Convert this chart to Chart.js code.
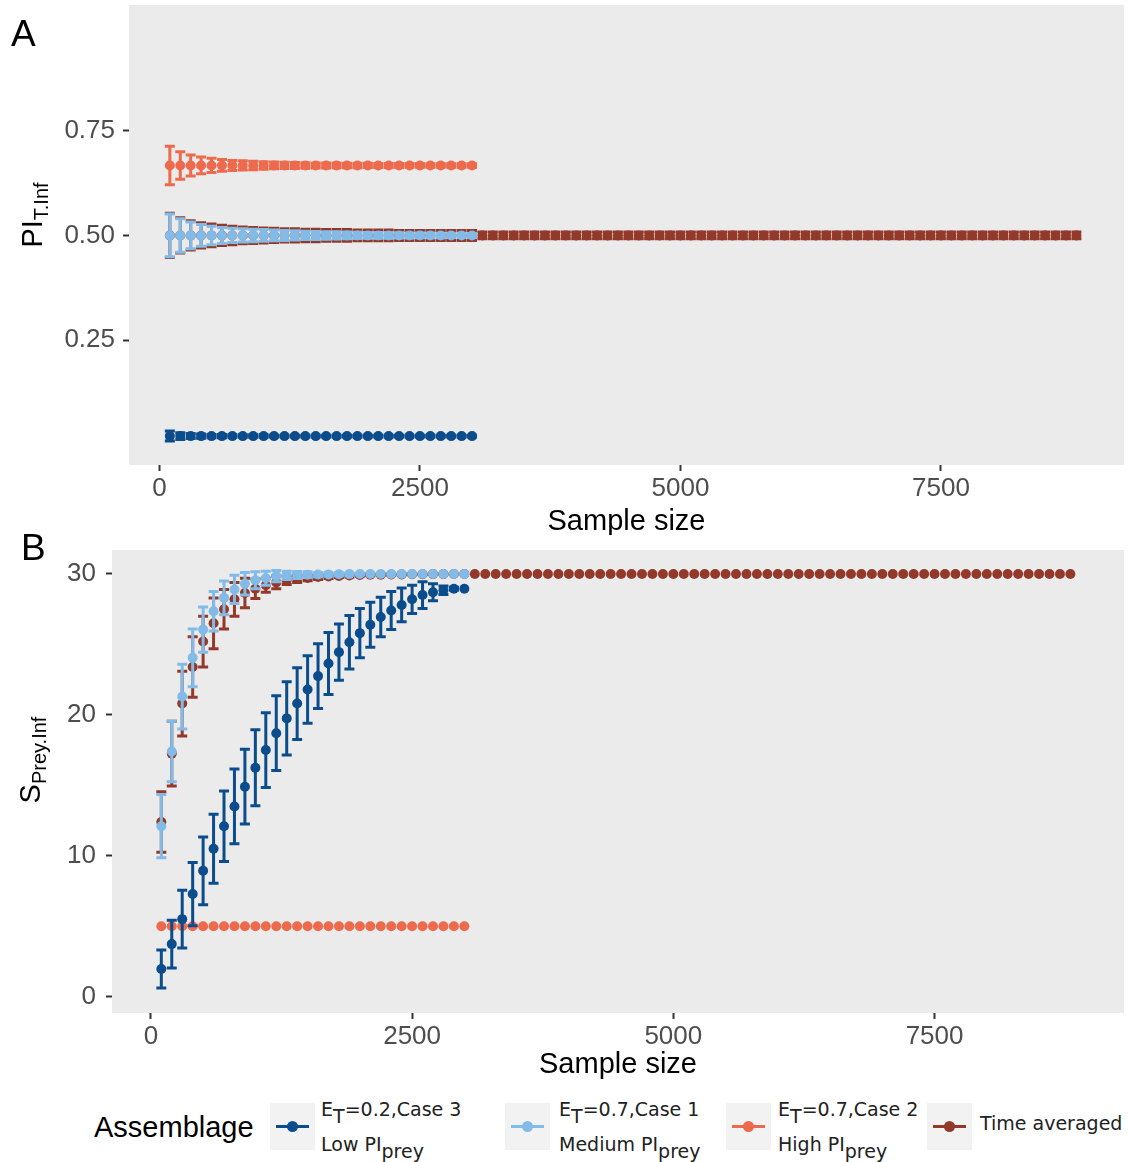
<!DOCTYPE html>
<html>
<head>
<meta charset="utf-8">
<title>Sample size curves</title>
<script src="https://cdn.jsdelivr.net/npm/chart.js@4.4.1/dist/chart.umd.min.js"></script>
<style>
  body { margin: 0; background: #fff; width: 1129px; height: 1162px; position: relative; overflow: hidden;
         font-family: "Liberation Sans", Arial, sans-serif; }
  canvas { position: absolute; left: 0; }
  #chartA { top: 0; }
  #chartB { top: 540px; }
  .tag { position: absolute; font-size: 37px; line-height: 37px; color: #000; }
  .ytitle { position: absolute; transform: translate(-50%, -50%) rotate(-90deg); white-space: nowrap;
            font-size: 29px; color: #000; }
  .ytitle sub { font-size: 20px; vertical-align: -0.3em; line-height: 0; }
  .lg-title { position: absolute; left: 94px; top: 1111px; font-size: 29px; line-height: 33px; }
  .key { position: absolute; top: 1103px; width: 45px; height: 47px; background: #f2f2f2; }
  .key .kline { position: absolute; left: 6px; right: 6px; top: 22px; height: 3px; }
  .key .kdot { position: absolute; left: 17px; top: 18px; width: 11px; height: 11px; border-radius: 50%; }
  .ltext { position: absolute; font-family: "DejaVu Sans", sans-serif; font-size: 19px; line-height: 35px;
           color: #222; white-space: nowrap; }
  .ltext sub { font-size: 19px; vertical-align: -0.35em; line-height: 0; }
</style>
</head>
<body>
<canvas id="chartA" width="1129" height="535"></canvas>
<canvas id="chartB" width="1129" height="545"></canvas>

<div class="tag" style="left:11px; top:15px;">A</div>
<div class="tag" style="left:21px; top:529px;">B</div>
<div class="ytitle" style="left:32px; top:215px;">PI<sub>T.Inf</sub></div>
<div class="ytitle" style="left:30px; top:760px;">S<sub>Prey.Inf</sub></div>
<div id="legend"></div>

<script>
// sample sizes of the three assemblages and of the time-averaged one
const sampleSizes = [100, 200, 300, 400, 500, 600, 700, 800, 900, 1000,
    1100, 1200, 1300, 1400, 1500, 1600, 1700, 1800, 1900, 2000,
    2100, 2200, 2300, 2400, 2500, 2600, 2700, 2800, 2900, 3000];
const sampleSizesTime = [100, 200, 300, 400, 500, 600, 700, 800, 900, 1000,
    1100, 1200, 1300, 1400, 1500, 1600, 1700, 1800, 1900, 2000,
    2100, 2200, 2300, 2400, 2500, 2600, 2700, 2800, 2900, 3000,
    3100, 3200, 3300, 3400, 3500, 3600, 3700, 3800, 3900, 4000,
    4100, 4200, 4300, 4400, 4500, 4600, 4700, 4800, 4900, 5000,
    5100, 5200, 5300, 5400, 5500, 5600, 5700, 5800, 5900, 6000,
    6100, 6200, 6300, 6400, 6500, 6600, 6700, 6800, 6900, 7000,
    7100, 7200, 7300, 7400, 7500, 7600, 7700, 7800, 7900, 8000,
    8100, 8200, 8300, 8400, 8500, 8600, 8700, 8800];

const xTickValues = [0, 2500, 5000, 7500];
const yTicksA = [0.25, 0.50, 0.75];
const yTicksB = [0, 10, 20, 30];

// Panel A: PI T.Inf  (value, half-width of error bar)
const piLow = [0.021, 0.021, 0.021, 0.021, 0.021, 0.021, 0.021, 0.021, 0.021, 0.021,
    0.021, 0.021, 0.021, 0.021, 0.021, 0.021, 0.021, 0.021, 0.021, 0.021,
    0.021, 0.021, 0.021, 0.021, 0.021, 0.021, 0.021, 0.021, 0.021, 0.021];
const piLowErr = [0.012, 0.008, 0.006, 0.005, 0.004, 0.004, 0.003, 0.003, 0.003, 0.003,
    0.002, 0.002, 0.002, 0.002, 0.002, 0.002, 0.002, 0.002, 0.002, 0.002,
    0.002, 0.002, 0.002, 0.002, 0.002, 0.002, 0.002, 0.002, 0.002, 0.002];
const piMed = [0.5, 0.5, 0.5, 0.5, 0.5, 0.5, 0.5, 0.5, 0.5, 0.5,
    0.5, 0.5, 0.5, 0.5, 0.5, 0.5, 0.5, 0.5, 0.5, 0.5,
    0.5, 0.5, 0.5, 0.5, 0.5, 0.5, 0.5, 0.5, 0.5, 0.5];
const piMedErr = [0.051, 0.040, 0.032, 0.026, 0.022, 0.019, 0.017, 0.016, 0.015, 0.014,
    0.013, 0.012, 0.011, 0.010, 0.0095, 0.009, 0.0085, 0.008, 0.0075, 0.007,
    0.0068, 0.0065, 0.0062, 0.006, 0.0058, 0.0056, 0.0054, 0.0052, 0.005, 0.0048];
const piHigh = [0.667, 0.667, 0.667, 0.667, 0.667, 0.667, 0.667, 0.667, 0.667, 0.667,
    0.667, 0.667, 0.667, 0.667, 0.667, 0.667, 0.667, 0.667, 0.667, 0.667,
    0.667, 0.667, 0.667, 0.667, 0.667, 0.667, 0.667, 0.667, 0.667, 0.667];
const piHighErr = [0.046, 0.033, 0.025, 0.020, 0.017, 0.014, 0.012, 0.011, 0.010, 0.009,
    0.008, 0.0075, 0.007, 0.0065, 0.006, 0.0058, 0.0056, 0.0054, 0.0052, 0.005,
    0.0048, 0.0047, 0.0046, 0.0045, 0.0044, 0.0043, 0.0042, 0.0041, 0.004, 0.004];
const piTime = [0.5, 0.5, 0.5, 0.5, 0.5, 0.5, 0.5, 0.5, 0.5, 0.5,
    0.5, 0.5, 0.5, 0.5, 0.5, 0.5, 0.5, 0.5, 0.5, 0.5,
    0.5, 0.5, 0.5, 0.5, 0.5, 0.5, 0.5, 0.5, 0.5, 0.5,
    0.5, 0.5, 0.5, 0.5, 0.5, 0.5, 0.5, 0.5, 0.5, 0.5,
    0.5, 0.5, 0.5, 0.5, 0.5, 0.5, 0.5, 0.5, 0.5, 0.5,
    0.5, 0.5, 0.5, 0.5, 0.5, 0.5, 0.5, 0.5, 0.5, 0.5,
    0.5, 0.5, 0.5, 0.5, 0.5, 0.5, 0.5, 0.5, 0.5, 0.5,
    0.5, 0.5, 0.5, 0.5, 0.5, 0.5, 0.5, 0.5, 0.5, 0.5,
    0.5, 0.5, 0.5, 0.5, 0.5, 0.5, 0.5, 0.5];
const piTimeErr = [0.053, 0.042, 0.035, 0.030, 0.027, 0.024, 0.022, 0.020, 0.019, 0.018,
    0.017, 0.016, 0.016, 0.015, 0.015, 0.014, 0.014, 0.014, 0.013, 0.013,
    0.013, 0.013, 0.012, 0.012, 0.012, 0.012, 0.012, 0.012, 0.012, 0.012,
    0.008, 0.008, 0.008, 0.008, 0.008, 0.008, 0.008, 0.008, 0.008, 0.008,
    0.008, 0.008, 0.008, 0.008, 0.008, 0.008, 0.008, 0.008, 0.008, 0.008,
    0.008, 0.008, 0.008, 0.008, 0.008, 0.008, 0.008, 0.008, 0.008, 0.008,
    0.008, 0.008, 0.008, 0.008, 0.008, 0.008, 0.008, 0.008, 0.008, 0.008,
    0.008, 0.008, 0.008, 0.008, 0.008, 0.008, 0.008, 0.008, 0.008, 0.008,
    0.008, 0.008, 0.008, 0.008, 0.008, 0.008, 0.008, 0.008];

// Panel B: S Prey.Inf
const sLow = [1.96, 3.73, 5.5, 7.28, 8.93, 10.5, 12.1, 13.5, 14.9, 16.25,
    17.5, 18.7, 19.75, 20.8, 21.8, 22.75, 23.65, 24.45, 25.15, 25.8,
    26.4, 26.95, 27.4, 27.8, 28.2, 28.5, 28.7, 28.85, 28.95, 28.95];
const sLowErr = [1.35, 1.7, 2.05, 2.25, 2.4, 2.45, 2.5, 2.65, 2.65, 2.7,
    2.65, 2.65, 2.6, 2.55, 2.4, 2.3, 2.2, 2.0, 1.9, 1.75,
    1.6, 1.4, 1.35, 1.2, 1.0, 0.95, 0.6, 0.3, 0.1, 0];
const sMed = [12.1, 17.4, 21.3, 24.05, 26.05, 27.35, 28.3, 28.9, 29.3, 29.55,
    29.7, 29.85, 29.9, 29.93, 29.95, 29.96, 29.97, 29.98, 29.99, 30,
    30, 30, 30, 30, 30, 30, 30, 30, 30, 30];
const sMedErr = [2.25, 2.15, 2.3, 2.05, 1.6, 1.4, 1.2, 1.0, 0.8, 0.6,
    0.5, 0.4, 0.3, 0.25, 0.2, 0.15, 0.12, 0.1, 0.08, 0.05,
    0, 0, 0, 0, 0, 0, 0, 0, 0, 0];
const sHigh = [5, 5, 5, 5, 5, 5, 5, 5, 5, 5,
    5, 5, 5, 5, 5, 5, 5, 5, 5, 5,
    5, 5, 5, 5, 5, 5, 5, 5, 5, 5];
const sTime = [12.4, 17.25, 20.8, 23.4, 25.2, 26.5, 27.5, 28.2, 28.65, 28.95,
    29.2, 29.4, 29.55, 29.65, 29.72, 29.78, 29.82, 29.86, 29.89, 29.92,
    29.94, 29.95, 29.96, 29.97, 29.98, 29.98, 29.99, 29.99, 30, 30,
    30, 30, 30, 30, 30, 30, 30, 30, 30, 30,
    30, 30, 30, 30, 30, 30, 30, 30, 30, 30,
    30, 30, 30, 30, 30, 30, 30, 30, 30, 30,
    30, 30, 30, 30, 30, 30, 30, 30, 30, 30,
    30, 30, 30, 30, 30, 30, 30, 30, 30, 30,
    30, 30, 30, 30, 30, 30, 30, 30];
const sTimeErr = [2.15, 2.3, 2.3, 2.15, 1.8, 1.8, 1.4, 1.2, 1.05, 0.7,
    0.5, 0.45, 0.3, 0.25, 0.2, 0.18, 0.15, 0.12, 0.1, 0.08,
    0.06, 0.05, 0.04, 0.03, 0.02, 0.02, 0.01, 0.01, 0, 0];

const colLow = '#0b4d8c';
const colMed = '#82bbe8';
const colHigh = '#ee6a4d';
const colTime = '#93392a';

const legendItems = [
    { color: colLow, key: 270, text: 321, html: 'E<sub>T</sub>=0.2,Case 3<br>Low PI<sub>prey</sub>' },
    { color: colMed, key: 505, text: 559, html: 'E<sub>T</sub>=0.7,Case 1<br>Medium PI<sub>prey</sub>' },
    { color: colHigh, key: 726, text: 778, html: 'E<sub>T</sub>=0.7,Case 2<br>High PI<sub>prey</sub>' },
    { color: colTime, key: 927, text: 980, html: 'Time averaged' }
];

// gray panel behind the points
const panelBg = {
    id: 'panelBg',
    beforeDraw(chart) {
        const a = chart.chartArea;
        chart.ctx.save();
        chart.ctx.fillStyle = '#ebebeb';
        chart.ctx.fillRect(a.left, a.top, a.right - a.left, a.bottom - a.top);
        chart.ctx.restore();
    }
};

// vertical error bars with caps, drawn under each dataset's points
const errorBars = {
    id: 'errorBars',
    beforeDatasetDraw(chart, args) {
        const ds = chart.data.datasets[args.index];
        if (!ds.errors) return;
        const yScale = chart.scales.y;
        const ctx = chart.ctx;
        ctx.save();
        ctx.strokeStyle = ds.backgroundColor;
        ctx.lineWidth = 3;
        args.meta.data.forEach((pt, i) => {
            const e = ds.errors[i];
            if (!e) return;
            const v = ds.data[i].y;
            const top = yScale.getPixelForValue(v + e);
            const bot = yScale.getPixelForValue(v - e);
            ctx.beginPath();
            ctx.moveTo(pt.x, top); ctx.lineTo(pt.x, bot);
            ctx.moveTo(pt.x - 5, top); ctx.lineTo(pt.x + 5, top);
            ctx.moveTo(pt.x - 5, bot); ctx.lineTo(pt.x + 5, bot);
            ctx.stroke();
        });
        ctx.restore();
    }
};

function series(xs, ys, errs, color) {
    return {
        data: xs.map((x, i) => ({ x: x, y: ys[i] })),
        errors: errs,
        backgroundColor: color,
        borderWidth: 0,
        pointRadius: 5,
        pointHoverRadius: 5
    };
}

function makeChart(id, datasets, cfg) {
    const tickFont = { size: 26, family: '"Liberation Sans", Arial' };
    return new Chart(document.getElementById(id), {
        type: 'scatter',
        data: { datasets: datasets },
        plugins: [panelBg, errorBars],
        options: {
            responsive: false,
            animation: false,
            events: [],
            layout: { padding: cfg.padding },
            plugins: { legend: { display: false }, tooltip: { enabled: false } },
            scales: {
                x: {
                    type: 'linear', min: cfg.xMin, max: cfg.xMax,
                    afterBuildTicks: s => { s.ticks = xTickValues.map(v => ({ value: v })); },
                    afterFit: s => { s.height = cfg.xHeight; s.paddingLeft = 0; s.paddingRight = 0; },
                    ticks: { color: '#4d4d4d', font: tickFont, padding: 2, maxRotation: 0, callback: v => String(v) },
                    grid: { drawOnChartArea: false, drawTicks: true, tickLength: 6, tickColor: '#333', tickWidth: 2 },
                    border: { display: false },
                    title: { display: true, text: 'Sample size', color: '#000',
                             font: { size: 29, family: '"Liberation Sans", Arial' },
                             padding: { top: 0, bottom: cfg.titlePad } }
                },
                y: {
                    type: 'linear', min: cfg.yMin, max: cfg.yMax,
                    afterBuildTicks: s => { s.ticks = cfg.yTicks.map(v => ({ value: v })); },
                    afterFit: s => { s.width = cfg.yWidth; s.paddingTop = 0; s.paddingBottom = 0; },
                    ticks: { color: '#4d4d4d', font: tickFont, padding: cfg.yPad, callback: cfg.yFormat },
                    grid: { drawOnChartArea: false, drawTicks: true, tickLength: 6, tickColor: '#333', tickWidth: 2 },
                    border: { display: false }
                }
            }
        }
    });
}

makeChart('chartA', [
    series(sampleSizes, piLow, piLowErr, colLow),
    series(sampleSizes, piMed, piMedErr, colMed),
    series(sampleSizes, piHigh, piHighErr, colHigh),
    series(sampleSizesTime, piTime, piTimeErr, colTime)
], {
    padding: { top: 5, right: 2, left: 0, bottom: 0 },
    xMin: -292, xMax: 9257, xHeight: 70, titlePad: -4,
    yMin: -0.048, yMax: 1.05, yWidth: 129, yPad: 8,
    yTicks: yTicksA, yFormat: v => v.toFixed(2)
});

makeChart('chartB', [
    series(sampleSizes, sLow, sLowErr, colLow),
    series(sampleSizes, sMed, sMedErr, colMed),
    series(sampleSizes, sHigh, null, colHigh),
    series(sampleSizesTime, sTime, sTimeErr, colTime)
], {
    padding: { top: 10, right: 2, left: 0, bottom: 0 },
    xMin: -372, xMax: 9313, xHeight: 72, titlePad: 3,
    yMin: -1.16, yMax: 31.7, yWidth: 112, yPad: 10,
    yTicks: yTicksB, yFormat: v => String(v)
});

// legend
const legend = document.getElementById('legend');
legend.innerHTML = '<div class="lg-title">Assemblage</div>' + legendItems.map(it => {
    const single = it.html.indexOf('<br>') < 0;
    return '<div class="key" style="left:' + it.key + 'px">' +
        '<span class="kline" style="background:' + it.color + '"></span>' +
        '<span class="kdot" style="background:' + it.color + '"></span></div>' +
        '<div class="ltext" style="left:' + it.text + 'px; top:' + (single ? 1106 : 1092) + 'px">' + it.html + '</div>';
}).join('');
</script>
</body>
</html>
